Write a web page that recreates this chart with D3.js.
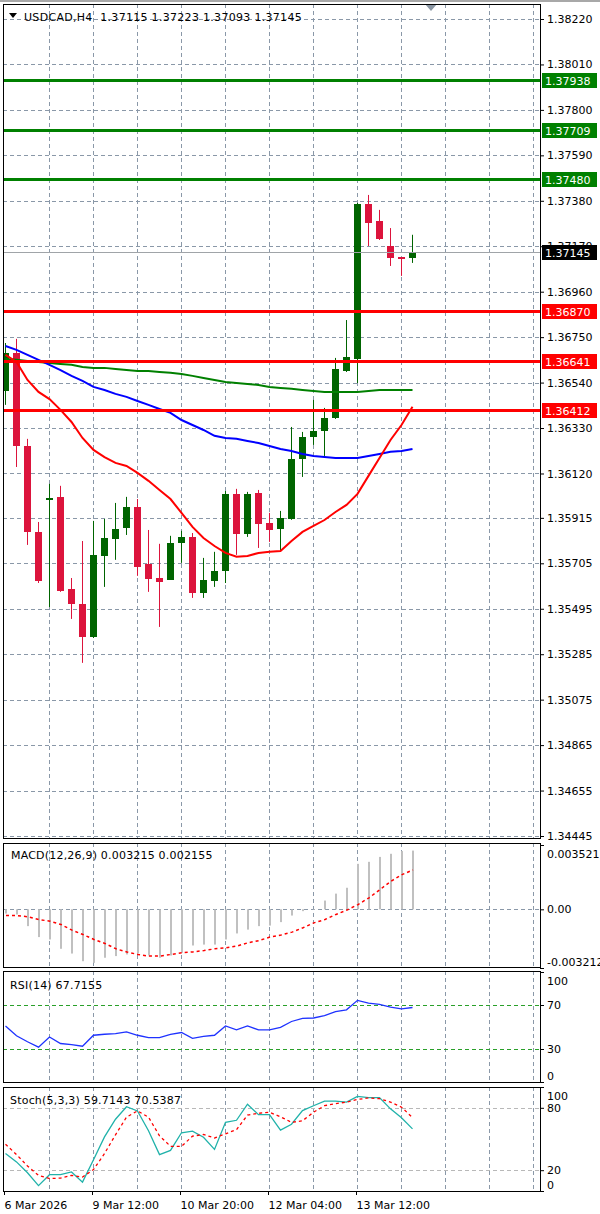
<!DOCTYPE html>
<html><head><meta charset="utf-8">
<script src="https://cdn.jsdelivr.net/npm/d3@7"></script>
<style>
body{margin:0;background:#fff}
svg{display:block}
text{font-family:"DejaVu Sans",sans-serif;font-size:11px;fill:#000}
</style>
</head><body>
<svg id="chart" width="600" height="1214"></svg>
<script>
// ---------------- DATA ----------------
const symbolTitle = "USDCAD,H4  1.37115 1.37223 1.37093 1.37145";
const timeLabels = ["6 Mar 2026","9 Mar 12:00","10 Mar 20:00","12 Mar 04:00","13 Mar 12:00"];
const timeLabelIndex = [0,8,16,24,32];
const priceTicks = [1.38220,1.38010,1.37800,1.37590,1.37380,1.37170,1.36960,1.36750,1.36540,1.36330,1.36120,1.35915,1.35705,1.35495,1.35285,1.35075,1.34865,1.34655,1.34445];

const openP  = [1.36501,1.36677,1.36247,1.35850,1.36002,1.36012,1.35587,1.35517,1.35365,1.35739,1.35818,1.35868,1.35965,1.35702,1.35637,1.35628,1.35799,1.35827,1.35568,1.35624,1.35670,1.36026,1.35841,1.36030,1.35892,1.35864,1.35910,1.36187,1.36289,1.36317,1.36377,1.36594,1.36649,1.37365,1.37287,1.37171,1.37120,1.37115];
const highP  = [1.36723,1.36742,1.36280,1.35896,1.36072,1.36063,1.35637,1.35808,1.35901,1.35910,1.35984,1.36012,1.36002,1.35859,1.35795,1.35832,1.35855,1.35845,1.35730,1.35758,1.36039,1.36049,1.36035,1.36044,1.35938,1.35947,1.36335,1.36312,1.36460,1.36423,1.36654,1.36829,1.37370,1.37407,1.37338,1.37254,1.37120,1.37223];
const lowP   = [1.36437,1.36150,1.35790,1.35614,1.35503,1.35573,1.35448,1.35245,1.35360,1.35596,1.35721,1.35836,1.35647,1.35573,1.35411,1.35628,1.35707,1.35545,1.35545,1.35596,1.35614,1.35744,1.35827,1.35776,1.35804,1.35758,1.35906,1.36104,1.36252,1.36201,1.36372,1.36589,1.36538,1.37171,1.37199,1.37079,1.37033,1.37093];
const closeP = [1.36677,1.36247,1.35850,1.35624,1.36007,1.35577,1.35517,1.35365,1.35744,1.35822,1.35864,1.35965,1.35688,1.35633,1.35619,1.35799,1.35827,1.35568,1.35628,1.35670,1.36026,1.35841,1.36026,1.35887,1.35859,1.35915,1.36187,1.36289,1.36317,1.36377,1.36603,1.36658,1.37365,1.37278,1.37204,1.37116,1.37111,1.37145];

const maFast = [1.36668,1.36635,1.36552,1.36497,1.36464,1.36414,1.36358,1.36284,1.36229,1.36196,1.36169,1.36155,1.36123,1.36086,1.36044,1.36002,1.35938,1.35873,1.35822,1.35785,1.35753,1.35735,1.35739,1.35753,1.35758,1.35762,1.35808,1.35850,1.35878,1.35905,1.35942,1.35975,1.36026,1.36109,1.36192,1.36275,1.36344,1.36428];
const maMid  = [1.36709,1.36691,1.36668,1.36645,1.36622,1.36598,1.36571,1.36548,1.36520,1.36506,1.36488,1.36474,1.36455,1.36437,1.36418,1.36400,1.36367,1.36344,1.36321,1.36294,1.36284,1.36280,1.36270,1.36261,1.36247,1.36233,1.36224,1.36210,1.36201,1.36196,1.36192,1.36192,1.36192,1.36201,1.36210,1.36220,1.36224,1.36233];
const maSlow = [1.36649,1.36645,1.36640,1.36635,1.36631,1.36626,1.36622,1.36612,1.36608,1.36608,1.36603,1.36598,1.36594,1.36594,1.36589,1.36585,1.36580,1.36571,1.36561,1.36552,1.36543,1.36538,1.36534,1.36529,1.36520,1.36515,1.36511,1.36506,1.36501,1.36497,1.36497,1.36497,1.36497,1.36501,1.36506,1.36506,1.36506,1.36506];

const resistanceLevels = [1.37938,1.37709,1.37480];
const supportLevels = [1.36870,1.36641,1.36412];
const currentPrice = 1.37145;

const macdMain = [-0.00023,-0.00028,-0.00092,-0.00152,-0.00165,-0.00216,-0.00242,-0.00284,-0.00293,-0.00265,-0.00256,-0.00247,-0.00242,-0.00253,-0.00265,-0.00253,-0.00238,-0.00198,-0.00193,-0.00193,-0.00165,-0.00132,-0.00111,-0.00092,-0.00089,-0.00070,-0.00034,-0.00010,-0.00002,0.00048,0.00086,0.00118,0.00249,0.00260,0.00287,0.00304,0.00319,0.003215];
const macdSignal = [-0.00034,-0.00034,-0.00041,-0.00056,-0.00065,-0.00083,-0.00114,-0.00138,-0.00165,-0.00187,-0.00216,-0.00234,-0.00247,-0.00256,-0.00256,-0.00247,-0.00238,-0.00233,-0.00226,-0.00216,-0.00211,-0.00201,-0.00183,-0.00171,-0.00152,-0.00141,-0.00125,-0.00101,-0.00074,-0.00056,-0.00028,-0.00004,0.00026,0.00063,0.00108,0.00154,0.00190,0.002155];
const macdTicks = [0.003521,0,-0.003212];
const macdTickLabels = ["0.003521","0.00","-0.003212"];

const rsiValues = [51,42,36.6,31.7,40.9,35,34,32.5,42.5,43.4,44,45.5,42.5,40.3,40.3,43.4,45,39.7,41.5,42.5,51,47.4,51,47.4,47.4,49.6,55,57.9,58.2,60.3,64,65.6,74.2,71.7,70.5,68,66.5,67.7155];
const rsiLevels = [70,30];
const rsiTicks = [100,70,30,0];

const stochK = [36,28,17.5,5.2,15.7,15.7,18.3,8.5,30,52,69,81,77,58,35,39,56,57.6,51.7,40,66,68,83.5,73.4,73.4,58.6,64.2,77.3,82,86.5,86.5,85.5,91,89.8,89.8,79,70.5,59.7143];
const stochD = [45,35,24,15,12,12.4,15,13.4,20.6,36,54,71,77,71,53,43,43,52.7,54.4,51,55,59,73,74.7,75.7,71.4,66,67.5,75.7,82,84,85.5,88,89.5,88.8,85.5,80.6,70.5387];
const stochLevels = [80,20];
const stochTicks = [100,80,20,0];

// ---------------- LAYOUT ----------------
const svg = d3.select("#chart");
const L = 3, R = 540;
const panels = {
  main:{top:4,bottom:838},
  macd:{top:843,bottom:967},
  rsi:{top:971,bottom:1082},
  sto:{top:1087,bottom:1191}
};
const x = d3.scaleLinear().domain([0,48]).range([5,533]);
const yMain = d3.scaleLinear().domain([1.34445,1.38220]).range([836,19]);
const yMacd = d3.scaleLinear().domain([-0.003212,0.003521]).range([968,845]);
const yRsi = d3.scaleLinear().domain([0,100]).range([1082,972]);
const ySto = d3.scaleLinear().domain([0,100]).range([1191,1087]);
const px = v => Math.round(v)+0.5;
const gridColor = "#8a98a8";
const dash = "4,3";

// top window strip
svg.append("rect").attr("x",0).attr("y",0).attr("width",600).attr("height",2).attr("fill","#a8a8a8");

// clip paths
const defs = svg.append("defs");
Object.entries(panels).forEach(([k,p])=>{
  defs.append("clipPath").attr("id","clip-"+k).append("rect")
    .attr("x",L+1).attr("y",p.top+1).attr("width",R-L-1).attr("height",p.bottom-p.top-1);
});

// vertical grid lines in all panels
const gridIdx = d3.range(4,49,4);
Object.values(panels).forEach(p=>{
  svg.append("g").selectAll("line").data(gridIdx).join("line")
    .attr("x1",d=>px(x(d))).attr("x2",d=>px(x(d)))
    .attr("y1",p.top).attr("y2",p.bottom)
    .attr("stroke",gridColor).attr("stroke-dasharray",dash).attr("stroke-width",1);
});

// horizontal grid in main
svg.append("g").selectAll("line").data(priceTicks).join("line")
  .attr("x1",L).attr("x2",R)
  .attr("y1",d=>px(yMain(d))).attr("y2",d=>px(yMain(d)))
  .attr("stroke",gridColor).attr("stroke-dasharray",dash);

// ---------- main panel content ----------
const gMain = svg.append("g").attr("clip-path","url(#clip-main)");
const candles = d3.range(openP.length).map(i=>({i,o:openP[i],h:highP[i],l:lowP[i],c:closeP[i]}));
const bull = "#006400", bear = "#dc143c";
const cg = gMain.append("g");
cg.selectAll("line").data(candles).join("line")
  .attr("x1",d=>px(x(d.i))).attr("x2",d=>px(x(d.i)))
  .attr("y1",d=>yMain(d.h)).attr("y2",d=>yMain(d.l))
  .attr("stroke",d=>d.c>=d.o?bull:bear).attr("stroke-width",1);
cg.selectAll("rect").data(candles).join("rect")
  .attr("x",d=>Math.round(x(d.i))-3).attr("width",7)
  .attr("y",d=>Math.round(Math.min(yMain(d.o),yMain(d.c))))
  .attr("height",d=>Math.max(2,Math.round(Math.abs(yMain(d.o)-yMain(d.c)))))
  .attr("fill",d=>d.c>=d.o?bull:bear);

const maLine = arr => d3.line().x((d,i)=>x(i)+0.5).y(d=>yMain(d))(arr);
gMain.append("path").attr("d",maLine(maSlow)).attr("fill","none").attr("stroke","#008000").attr("stroke-width",2);
gMain.append("path").attr("d",maLine(maMid)).attr("fill","none").attr("stroke","#0000ff").attr("stroke-width",2);
gMain.append("path").attr("d",maLine(maFast)).attr("fill","none").attr("stroke","#ff0000").attr("stroke-width",2);

// price axis
const pa = svg.append("g").attr("transform",`translate(${R},0)`)
  .call(d3.axisRight(yMain).tickValues(priceTicks).tickFormat(d3.format(".5f")).tickSize(4).tickPadding(3).tickSizeOuter(0));
pa.select(".domain").remove();

// current price line
const cy = Math.round(yMain(currentPrice));
svg.append("line").attr("x1",L).attr("x2",R).attr("y1",cy+0.5).attr("y2",cy+0.5).attr("stroke","#a0a4a8");
// horizontal levels
const levels = resistanceLevels.map(v=>({v,c:"#008000"})).concat(supportLevels.map(v=>({v,c:"#ff0000"})));
const lg = svg.append("g");
levels.forEach(lv=>{
  const ly = Math.round(yMain(lv.v));
  lg.append("rect").attr("x",L).attr("y",ly-1).attr("width",R-L).attr("height",3).attr("fill",lv.c);
  lg.append("rect").attr("x",542).attr("y",ly-7).attr("width",55).attr("height",15).attr("fill",lv.c);
  lg.append("text").attr("x",545).attr("y",ly+4.5).style("fill","#fff").text(d3.format(".5f")(lv.v));
});
lg.append("rect").attr("x",542).attr("y",cy-7).attr("width",55).attr("height",15).attr("fill","#000");
lg.append("text").attr("x",545).attr("y",cy+4.5).style("fill","#fff").text(d3.format(".5f")(currentPrice));

// title
svg.append("path").attr("d","M9,13 L17,13 L13,18 Z").attr("fill","#000");
svg.append("text").attr("x",24).attr("y",21).attr("xml:space","preserve").style("letter-spacing","0.3px").text(symbolTitle);
// shift marker
svg.append("path").attr("d","M425,4 L437,4 L431,11 Z").attr("fill","#8a96a3");

// ---------- MACD ----------
const z0 = yMacd(0);
svg.append("line").attr("x1",L).attr("x2",R).attr("y1",px(z0)).attr("y2",px(z0)).attr("stroke",gridColor).attr("stroke-dasharray",dash);
const gM = svg.append("g").attr("clip-path","url(#clip-macd)");
gM.selectAll("rect").data(macdMain).join("rect")
  .attr("x",(d,i)=>Math.round(x(i))).attr("width",2)
  .attr("y",d=>Math.min(yMacd(d),z0)).attr("height",d=>Math.max(0.5,Math.abs(yMacd(d)-z0)))
  .attr("fill","#c0c0c0");
gM.append("path").attr("d",d3.line().x((d,i)=>x(i)+1).y(d=>yMacd(d))(macdSignal))
  .attr("fill","none").attr("stroke","#ff0000").attr("stroke-width",1.5).attr("stroke-dasharray","3,3");
svg.append("text").attr("x",11).attr("y",859).style("letter-spacing","0.2px").text("MACD(12,26,9) 0.003215 0.002155");
const ma = svg.append("g").attr("transform",`translate(${R},0)`)
  .call(d3.axisRight(yMacd).tickValues(macdTicks).tickFormat((d,i)=>macdTickLabels[i]).tickSize(4).tickPadding(3).tickSizeOuter(0));
ma.select(".domain").remove();

// ---------- RSI ----------
svg.append("g").selectAll("line").data(rsiLevels).join("line")
  .attr("x1",L).attr("x2",R).attr("y1",d=>px(yRsi(d))).attr("y2",d=>px(yRsi(d)))
  .attr("stroke","#2aa02a").attr("stroke-dasharray",dash);
svg.append("g").attr("clip-path","url(#clip-rsi)").append("path")
  .attr("d",d3.line().x((d,i)=>x(i)+0.5).y(d=>yRsi(d))(rsiValues))
  .attr("fill","none").attr("stroke","#1e32ff").attr("stroke-width",1.3);
svg.append("text").attr("x",10).attr("y",989).style("letter-spacing","0.2px").text("RSI(14) 67.7155");
const ra = svg.append("g").attr("transform",`translate(${R},0)`)
  .call(d3.axisRight(yRsi).tickValues(rsiTicks).tickFormat(d3.format("d")).tickSize(4).tickPadding(3).tickSizeOuter(0));
ra.select(".domain").remove();

// ---------- Stochastic ----------
svg.append("g").selectAll("line").data(stochLevels).join("line")
  .attr("x1",L).attr("x2",R).attr("y1",d=>px(ySto(d))).attr("y2",d=>px(ySto(d)))
  .attr("stroke","#b8b8b8").attr("stroke-dasharray",dash);
const gS = svg.append("g").attr("clip-path","url(#clip-sto)");
gS.append("path").attr("d",d3.line().x((d,i)=>x(i)+0.5).y(d=>ySto(d))(stochK))
  .attr("fill","none").attr("stroke","#20b2aa").attr("stroke-width",1.3);
gS.append("path").attr("d",d3.line().x((d,i)=>x(i)+0.5).y(d=>ySto(d))(stochD))
  .attr("fill","none").attr("stroke","#ff0000").attr("stroke-width",1.3).attr("stroke-dasharray","3,3");
svg.append("text").attr("x",10).attr("y",1104).style("letter-spacing","0.2px").text("Stoch(5,3,3) 59.7143 70.5387");
const sa = svg.append("g").attr("transform",`translate(${R},0)`)
  .call(d3.axisRight(ySto).tickValues(stochTicks).tickFormat(d3.format("d")).tickSize(4).tickPadding(3).tickSizeOuter(0));
sa.select(".domain").remove();

// keep top/bottom sub-axis labels inside their panels
[ma,ra,sa].forEach(a=>{
  const ticks = a.selectAll(".tick text").nodes();
  d3.select(ticks[0]).attr("dy","1.15em");
  d3.select(ticks[ticks.length-1]).attr("dy","-0.25em");
});
[pa,ma,ra,sa].forEach(a=>{
  a.selectAll("text").style("font-family","DejaVu Sans").style("font-size","11px").attr("fill","#000");
  a.selectAll(".tick line").attr("stroke","#000");
});

// time axis
const ta = svg.append("g").attr("transform",`translate(-1,${panels.sto.bottom})`)
  .call(d3.axisBottom(x).tickValues(timeLabelIndex).tickFormat((d,i)=>timeLabels[i]).tickSize(4).tickPadding(6).tickSizeOuter(0));
ta.select(".domain").remove();
ta.selectAll("text").attr("text-anchor","start").style("font-family","DejaVu Sans").style("font-size","11px").attr("fill","#000");
ta.selectAll(".tick line").attr("stroke","#000");

// panel frames
Object.values(panels).forEach(p=>{
  svg.append("rect").attr("x",L+0.5).attr("y",p.top+0.5).attr("width",R-L).attr("height",p.bottom-p.top)
    .attr("fill","none").attr("stroke","#000").attr("stroke-width",1);
});
</script>
</body></html>
